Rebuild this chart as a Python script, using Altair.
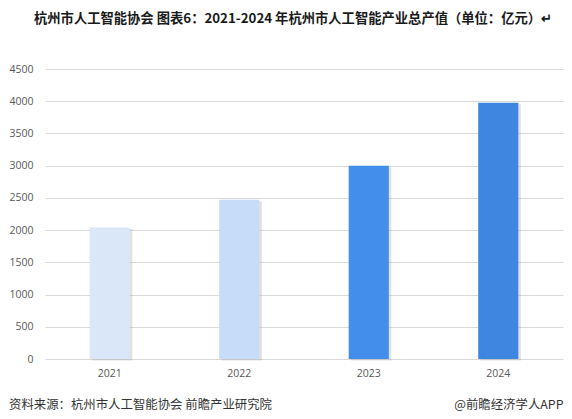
import altair as alt
import pandas as pd

years = ["2021", "2022", "2023", "2024"]
values = [2040, 2470, 3000, 3975]
colors = ["#D9E7F9", "#C6DCF8", "#438DEB", "#3F86E1"]
y_ticks = [0, 500, 1000, 1500, 2000, 2500, 3000, 3500, 4000, 4500]

title_text = "杭州市人工智能协会 图表6：2021-2024 年杭州市人工智能产业总产值（单位：亿元）↵"
source_text = "资料来源：杭州市人工智能协会 前瞻产业研究院"
brand_text = "@前瞻经济学人APP"

df = pd.DataFrame({"year": years, "value": values, "color": colors})

x_enc = alt.X("year:N", sort=years, title=None,
              scale=alt.Scale(paddingInner=0.69, paddingOuter=0.345),
              axis=alt.Axis(labelAngle=0, ticks=False, domain=False, grid=False,
                            labelFont="Open Sans", labelFontSize=10.5, labelColor="#595959",
                            labelPadding=9))
y_enc = alt.Y("value:Q", title=None,
              scale=alt.Scale(domain=[0, 4500], nice=False),
              axis=alt.Axis(values=y_ticks, format="d", ticks=False, domain=False, grid=True,
                            gridColor="#D9D9D9", gridWidth=1,
                            labelFont="Open Sans", labelFontSize=10.5, labelColor="#595959",
                            labelPadding=12))

base = alt.Chart(df)

shadow = base.mark_bar(color="#9a9a9a", opacity=0.3, xOffset=2.5, yOffset=1.5).encode(
    x=x_enc, y=y_enc
)
bars = base.mark_bar().encode(
    x=x_enc, y=y_enc,
    color=alt.Color("color:N", scale=None, legend=None)
)

title = alt.Chart(pd.DataFrame({"t": [title_text]})).mark_text(
    align="left", baseline="middle", fontSize=13.3, fontWeight="bold",
    font="Noto Sans CJK SC", color="#1a1a1a"
).encode(text="t:N", x=alt.value(-11), y=alt.value(-50))

source = alt.Chart(pd.DataFrame({"t": [source_text]})).mark_text(
    align="left", baseline="middle", fontSize=12.4,
    font="Noto Sans CJK SC", color="#333333"
).encode(text="t:N", x=alt.value(-36), y=alt.value(335.5))

brand = alt.Chart(pd.DataFrame({"t": [brand_text]})).mark_text(
    align="right", baseline="middle", fontSize=12.4,
    font="Noto Sans CJK SC", color="#333333"
).encode(text="t:N", x=alt.value(518.5), y=alt.value(335.5))

chart = alt.layer(shadow, bars, title, source, brand).properties(
    width=518, height=290,
    autosize=alt.AutoSizeParams(type="none"),
    padding={"left": 37, "top": 61, "right": 1, "bottom": 52},
    background="white"
).configure_view(stroke=None)

chart.save("out.html", embed_options={"renderer": "svg", "actions": False})
